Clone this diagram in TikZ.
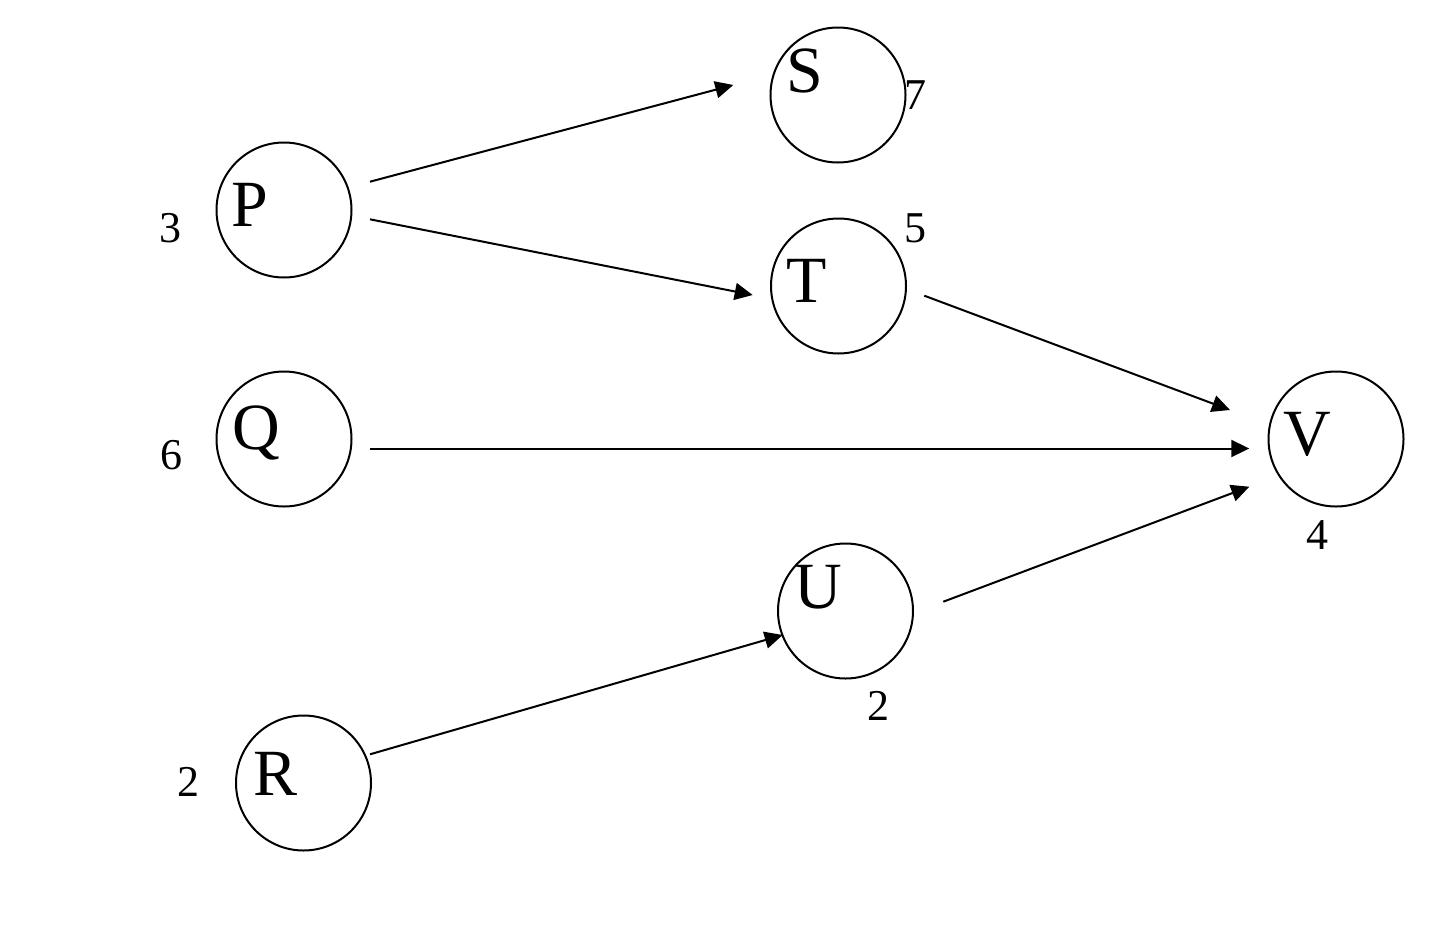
\documentclass[tikz,border=0pt]{standalone}
\usepackage{fontspec}
\setmainfont{Liberation Serif}
\usetikzlibrary{arrows.meta}
\begin{document}
\begin{tikzpicture}[x=1pt,y=-1pt,
  vertex/.style={circle,draw,line width=2pt,minimum size=135pt,inner sep=0pt},
  letter/.style={anchor=base,inner sep=0pt,font=\fontsize{66}{70}\selectfont},
  weight/.style={anchor=base,inner sep=0pt,font=\fontsize{44}{48}\selectfont},
  edge/.style={line width=2pt,-{Triangle[length=18pt,width=17pt]}}]
\useasboundingbox (0,0) rectangle (1446,924);
% circles
\node[vertex] (P) at (284,210) {};
\node[vertex] (S) at (838,95) {};
\node[vertex] (T) at (838.5,286) {};
\node[vertex] (Q) at (284,439) {};
\node[vertex] (V) at (1336,439) {};
\node[vertex] (U) at (845.5,611) {};
\node[vertex] (R) at (303.5,783) {};
% letters
\node[letter] (Pl) at (249.4,226.7) {P};
\node[letter] (Sl) at (804.7,92.5) {S};
\node[letter] (Tl) at (806.7,302.7) {T};
\node[letter] (Ql) at (256.7,449) {Q};
\node[letter] (Vl) at (1307,455.5) {V};
\node[letter] (Ul) at (818,608.5) {U};
\node[letter] (Rl) at (275.5,795) {R};
% weights
\node[weight] (wP) at (170,242.5) {3};
\node[weight] (wS) at (915.3,109) {7};
\node[weight] (wT) at (915.5,242.7) {5};
\node[weight] (wQ) at (171.7,469.5) {6};
\node[weight] (wV) at (1317.5,549) {4};
\node[weight] (wU) at (878.3,720.2) {2};
\node[weight] (wR) at (188.3,796.2) {2};
% connector ends
\coordinate (ps1) at (370,181.7);
\coordinate (ps2) at (733.3,85);
\coordinate (pt1) at (370,219.3);
\coordinate (pt2) at (752.7,295);
\coordinate (tv1) at (924.3,295.7);
\coordinate (tv2) at (1230,410);
\coordinate (qv1) at (370,448.5);
\coordinate (qv2) at (1249.3,448.5);
\coordinate (uv1) at (943.3,601.7);
\coordinate (uv2) at (1249.3,486.7);
\coordinate (ru1) at (370,754.3);
\coordinate (ru2) at (782.7,635);
% connectors
\draw[edge] (ps1) -- (ps2);
\draw[edge] (pt1) -- (pt2);
\draw[edge] (tv1) -- (tv2);
\draw[edge] (qv1) -- (qv2);
\draw[edge] (uv1) -- (uv2);
\draw[edge] (ru1) -- (ru2);
\end{tikzpicture}
\end{document}
